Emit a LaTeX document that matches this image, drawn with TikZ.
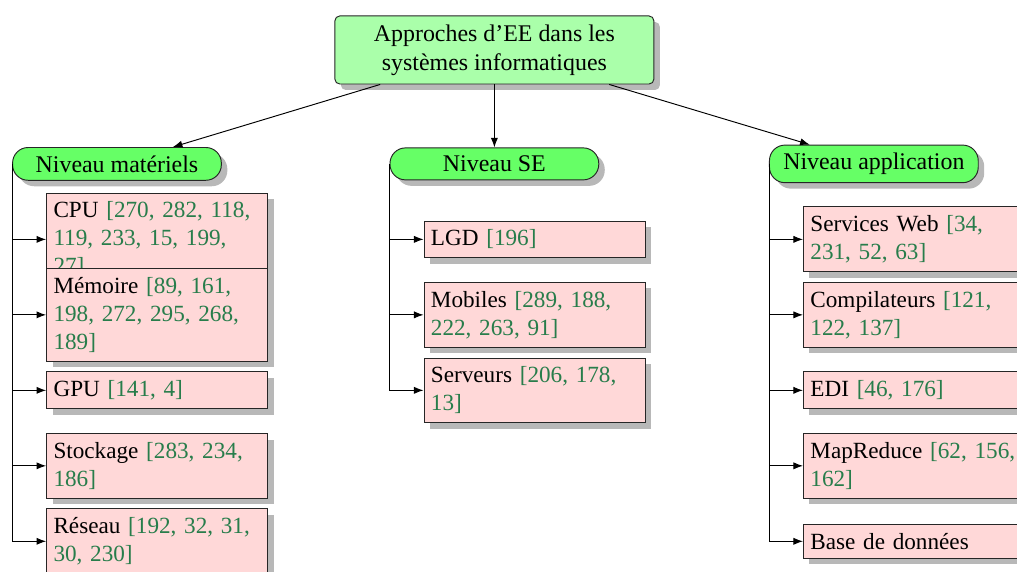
\documentclass[tikz,border=0pt]{standalone}
\usepackage{fontspec}
\setmainfont{Liberation Serif}
\usetikzlibrary{shadows,arrows.meta}

\definecolor{rootgreen}{RGB}{170,255,170}
\definecolor{levelgreen}{RGB}{102,255,102}
\definecolor{leafpink}{RGB}{255,216,216}
\definecolor{citegreen}{RGB}{40,125,75}
\newcommand{\refc}{\color{citegreen}}

\begin{document}
\begin{tikzpicture}[
    every node/.style={font=\fontsize{10}{12}\selectfont},
    shade/.style={drop shadow={fill=black!28,opacity=1,shadow xshift=2.5pt,shadow yshift=-2.5pt}},
    rootbox/.style={draw=black!85,fill=rootgreen,rounded corners=2pt,align=center,
      minimum width=4.69cm,minimum height=1cm,shade},
    levelbox/.style={draw=black!85,fill=levelgreen,rounded corners=6.5pt,minimum width=3.07cm,shade},
    leafbox/.style={draw=black!85,fill=leafpink,text width=3.05cm,align=left,
      font=\fontsize{9.7}{11.7}\selectfont,inner xsep=2.9pt,inner ysep=3.6pt,anchor=west,shade},
    link/.style={-{Latex[length=4pt,width=3pt]}}
  ]
  \useasboundingbox (0,0) rectangle (14.955,-8.411);

  % racine et niveaux
  \node[rootbox] (root) at (7.27,-0.735) {Approches d'EE dans les\\systèmes informatiques};
  \node[levelbox] (mat) at (1.72,-2.41) {Niveau matériels};
  \node[levelbox] (se) at (7.27,-2.41) {Niveau SE};
  \node[levelbox] (app) at (12.85,-2.41) {Niveau application};

  % niveau materiels
  \node[leafbox] (cpu) at ([shift={(0.5,-1.11)}]mat.west) {CPU \refc[270, 282, 118,\\119, 233, 15, 199,\\27]};
  \node[leafbox] (mem) at ([shift={(0.5,-2.22)}]mat.west) {Mémoire \refc[89, 161,\\198, 272, 295, 268,\\189]};
  \node[leafbox] (gpu) at ([shift={(0.5,-3.33)}]mat.west) {GPU \refc[141, 4]};
  \node[leafbox] (stock) at ([shift={(0.5,-4.44)}]mat.west) {Stockage \refc[283, 234,\\186]};
  \node[leafbox] (res) at ([shift={(0.5,-5.55)}]mat.west) {Réseau \refc[192, 32, 31,\\30, 230]};

  % niveau SE
  \node[leafbox] (lgd) at ([shift={(0.5,-1.11)}]se.west) {LGD \refc[196]};
  \node[leafbox] (mob) at ([shift={(0.5,-2.22)}]se.west) {Mobiles \refc[289, 188,\\222, 263, 91]};
  \node[leafbox] (serv) at ([shift={(0.5,-3.33)}]se.west) {Serveurs \refc[206, 178,\\13]};

  % niveau application
  \node[leafbox] (web) at ([shift={(0.5,-1.11)}]app.west) {Services Web \refc[34,\\231, 52, 63]};
  \node[leafbox] (comp) at ([shift={(0.5,-2.22)}]app.west) {Compilateurs \refc[121,\\122, 137]};
  \node[leafbox] (edi) at ([shift={(0.5,-3.33)}]app.west) {EDI \refc[46, 176]};
  \node[leafbox] (mapr) at ([shift={(0.5,-4.44)}]app.west) {MapReduce \refc[62, 156,\\162]};
  \node[leafbox] (bdd) at ([shift={(0.5,-5.55)}]app.west) {Base de données};

  % liens
  \draw[link] (root) -- (mat);
  \draw[link] (root) -- (se);
  \draw[link] (root) -- (app);
  \foreach \leaf in {cpu,mem,gpu,stock,res}
    \draw[link] (mat.west) |- (\leaf.west);
  \foreach \leaf in {lgd,mob,serv}
    \draw[link] (se.west) |- (\leaf.west);
  \foreach \leaf in {web,comp,edi,mapr,bdd}
    \draw[link] (app.west) |- (\leaf.west);
\end{tikzpicture}
\end{document}
